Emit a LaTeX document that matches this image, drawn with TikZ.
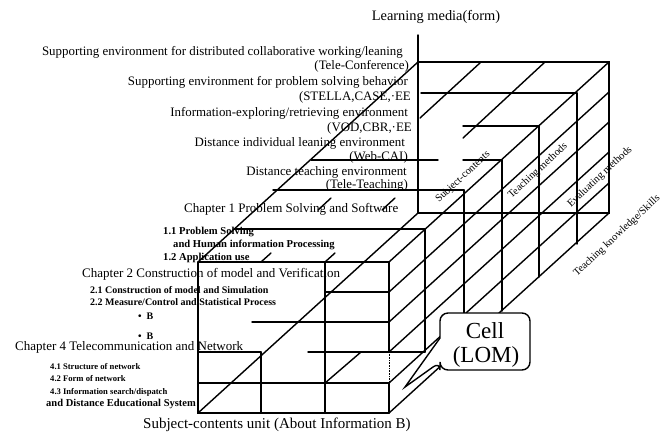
\documentclass[tikz,border=0pt]{standalone}
\usepackage{fontspec}
\setmainfont{Liberation Serif}
\begin{document}
\begin{tikzpicture}[x=1pt,y=-1pt]
\tikzset{
  edge/.style={line width=1.4pt, line cap=round},
  media/.style={inner sep=0pt, anchor=east, font=\fontsize{12.9}{14}\selectfont},
  chap/.style={inner sep=0pt, anchor=west, font=\fontsize{13}{15}\selectfont},
  sect/.style={inner sep=0pt, anchor=west, font=\bfseries\fontsize{10}{12}\selectfont},
  sectA/.style={inner sep=0pt, anchor=west, font=\bfseries\fontsize{10.6}{12}\selectfont},
  sectD/.style={inner sep=0pt, anchor=west, font=\bfseries\fontsize{8.6}{10}\selectfont},
  sectE/.style={inner sep=0pt, anchor=west, font=\bfseries\fontsize{10.5}{12}\selectfont},
  dimlbl/.style={inner sep=0pt, font=\fontsize{10.5}{12}\selectfont, rotate=43},
  celltxt/.style={inner sep=0pt, font=\fontsize{23}{26}\selectfont}
}
\useasboundingbox (0,0) rectangle (663,437);
% key corners
\coordinate (ax) at (418,35);
\coordinate (b1) at (418,62);
\coordinate (b2) at (609,62);
\coordinate (b3) at (609,213);
\coordinate (b4) at (418,213);
\coordinate (f1) at (198,262);
\coordinate (f2) at (389,262);
\coordinate (f3) at (389,413);
\coordinate (f4) at (198,413);
% back face and axis
\draw[edge] (ax) -- (b4);
\draw[edge] (b1) -- (b2) -- (b3) -- (b4);
% depth edges
\draw[edge] (f1) -- (b1);
\draw[edge] (f4) -- (b4);
\draw[edge] (f2) -- (b2);
\draw[edge] (f3) -- (b3);
% top face depth lines
\draw[edge] (234,229) -- (425,229);
\draw[edge] (273,190) -- (464,190);
\draw[edge] (311,160) -- (438,160);
\draw[edge] (463,160) -- (502,160);
\draw[edge] (463,126) -- (539,126);
\draw[edge] (421,93) -- (577,93);
% right face verticals
\draw[edge] (425,229) -- (425,352);
\draw[edge] (464,190) -- (464,341);
\draw[edge] (502,160) -- (502,311);
\draw[edge] (539,126) -- (539,277);
\draw[edge] (577,93) -- (577,244);
% right face diagonals
\foreach \v in {292,322,352,383} \draw[edge] (389,\v) -- (609,\v-200);
% top face column lines (visible parts)
\draw[edge] (261,262) -- (271,253);
\draw[edge] (318,210) -- (331,198);
\draw[edge] (420,118) -- (481,62);
\draw[edge] (325,262) -- (335,253);
\draw[edge] (382,210) -- (395,198);
\draw[edge] (463,138) -- (545,62);
% front face
\draw[edge] (f1) -- (f2);
\draw[edge] (f1) -- (f4) -- (f3);
\draw[edge] (325,262) -- (325,413);
\draw[edge] (261,352) -- (261,413);
\draw[edge] (389,262) -- (389,352);
\draw[line width=0.6pt, densely dotted] (389,352) -- (389,383);
\draw[edge] (389,383) -- (f3);
\draw[edge] (325,292) -- (389,292);
\draw[edge] (252,322) -- (389,322);
\draw[edge] (198,352) -- (261,352);
\draw[edge] (308,352) -- (425,352);
\draw[edge] (198,383) -- (389,383);
\draw[edge] (325,383) -- (361,352);
% callout
\draw[edge, fill=white, rounded corners=8pt] (440,338) -- (440,313) -- (530,313) -- (530,370) -- (440,370) -- (440,362) [sharp corners] -- (405,387) -- cycle;
\node[celltxt] (cell1) at (485,331) {Cell};
\node[celltxt] (cell2) at (486,357) {(LOM)};
% axis labels
\node[inner sep=0pt, font=\fontsize{14.4}{16}\selectfont] (lm) at (436,17) {Learning media(form)};
\node[inner sep=0pt, anchor=west, font=\fontsize{15}{17}\selectfont] (sc) at (143,425) {Subject-contents unit (About Information B)};
% media labels
\node[media] (m1) at (403,52) {Supporting environment for distributed collaborative working/leaning};
\node[media] (m1b) at (409,66) {(Tele-Conference)};
\node[media] (m2) at (408,82) {Supporting environment for problem solving behavior};
\node[media] (m2b) at (411,97) {(STELLA,CASE,·EE};
\node[media] (m3) at (408,113) {Information-exploring/retrieving environment};
\node[media] (m3b) at (412,128) {(VOD,CBR,·EE};
\node[media] (m4) at (405,143) {Distance individual leaning environment};
\node[media] (m4b) at (408,157) {(Web-CAI)};
\node[media] (m5) at (407,172) {Distance teaching environment};
\node[media] (m5b) at (408,185) {(Tele-Teaching)};
% chapters
\node[chap] (c1) at (184,209) {Chapter 1 Problem Solving and Software};
\node[sectA] (s11) at (163,232) {1.1 Problem Solving};
\node[sectA] (s11b) at (173,245) {and Human information Processing};
\node[sectA] (s12) at (163,258) {1.2 Application use};
\node[chap] (c2) at (82,274) {Chapter 2 Construction of model and Verification};
\node[sect] (s21) at (90,290) {2.1 Construction of model and Simulation};
\node[sect] (s22) at (90,302) {2.2 Measure/Control and Statistical Process};
\node[sect] (d1) at (138,316) {•\ \ B};
\node[sect] (d2) at (138,336) {•\ \ B};
\node[chap] (c4) at (15,347) {Chapter 4 Telecommunication and Network};
\node[sectD] (s41) at (50,367) {4.1 Structure of network};
\node[sectD] (s42) at (50,379) {4.2 Form of network};
\node[sectD] (s43) at (50,392) {4.3 Information search/dispatch};
\node[sectE] (s43b) at (46,404) {and Distance Educational System};
% dimension labels
\node[dimlbl] (k1) at (463,177) {Subject-contents};
\node[dimlbl] (k2) at (538,171) {Teaching methods};
\node[dimlbl] (k3) at (600,177) {Evaluating methods};
\node[dimlbl] (k4) at (617,236) {Teaching knowledge/Skills};
\end{tikzpicture}
\end{document}
